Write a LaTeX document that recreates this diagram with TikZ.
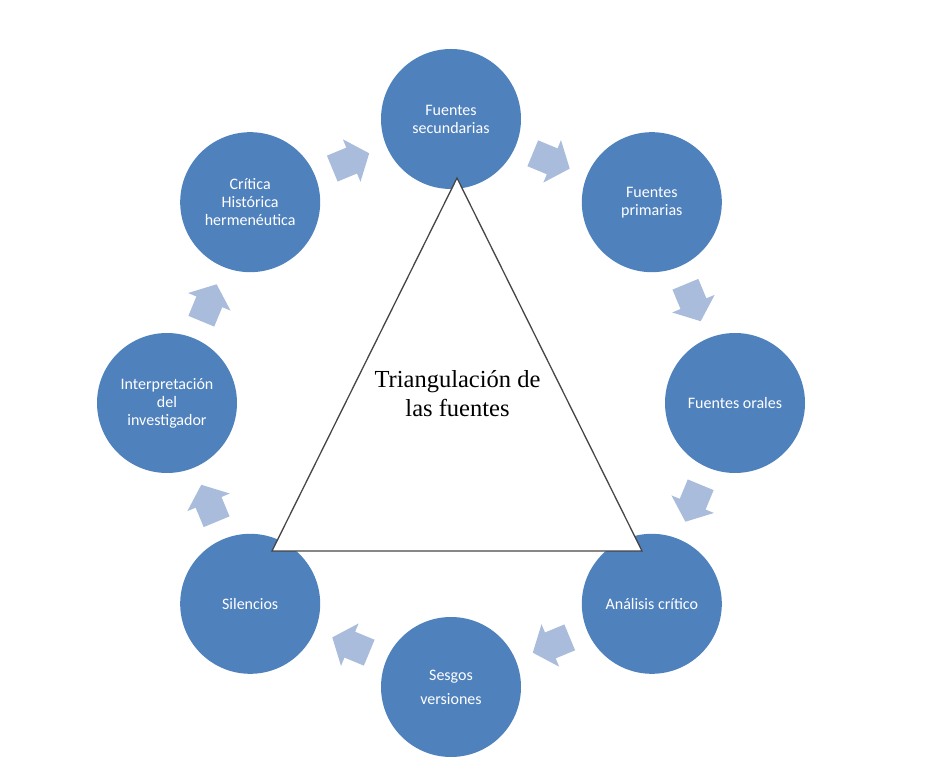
\documentclass[tikz,border=0pt]{standalone}
\usepackage{fontspec}
\setmainfont{Liberation Serif}
\newfontfamily\calfont{Carlito}
\definecolor{circblue}{RGB}{79,129,189}
\definecolor{arrblue}{RGB}{170,188,220}
\definecolor{triline}{RGB}{70,70,70}
\tikzset{
  stage/.style={circle, fill=circblue, minimum size=140pt, inner sep=0pt,
    text=white, align=center, font=\calfont\fontsize{16}{18}\selectfont},
  cyclearrow/.style={fill=arrblue, draw=none},
}
\begin{document}
\begin{tikzpicture}[x=1pt,y=1pt]
\useasboundingbox (0,0) rectangle (927,777);
\coordinate (C) at (451,374);
\begin{scope}[shift={(C)}]
  \node[stage] (c1) at (90:284) {Fuentes\\secundarias};
  \node[stage] (c2) at (45:284) {Fuentes\\primarias};
  \node[stage] (c3) at (0:284) {Fuentes orales};
  \node[stage] (c4) at (-45:284) {Análisis crítico};
  \node[stage] (c5) at (-90:284) {Sesgos\\[6pt]versiones};
  \node[stage] (c6) at (-135:284) {Silencios};
  \node[stage] (c7) at (180:284) {Interpretación\\del\\investigador};
  \node[stage] (c8) at (135:284) {Crítica\\Histórica\\hermenéutica};
  \foreach \a in {112.5,67.5,22.5,-22.5,-67.5,-112.5,-157.5,157.5}{
    \begin{scope}[shift={(\a:262)}, rotate=\a-90]
      \fill[cyclearrow] (-20,-14) -- (1,-14) -- (1,-23) -- (20,0) -- (1,23) -- (1,14) -- (-20,14) -- cycle;
    \end{scope}
  }
\end{scope}
\coordinate (t1) at (457,599);
\coordinate (t2) at (272,226);
\coordinate (t3) at (642,226);
\draw[fill=white, draw=triline, line width=1.3pt, line join=miter] (t1) -- (t2) -- (t3) -- cycle;
\node[align=center, font=\fontsize{24.5}{29.5}\selectfont, inner sep=0pt] (tt) at (457.5,383.5) {Triangulación de\\las fuentes};
\end{tikzpicture}
\end{document}
